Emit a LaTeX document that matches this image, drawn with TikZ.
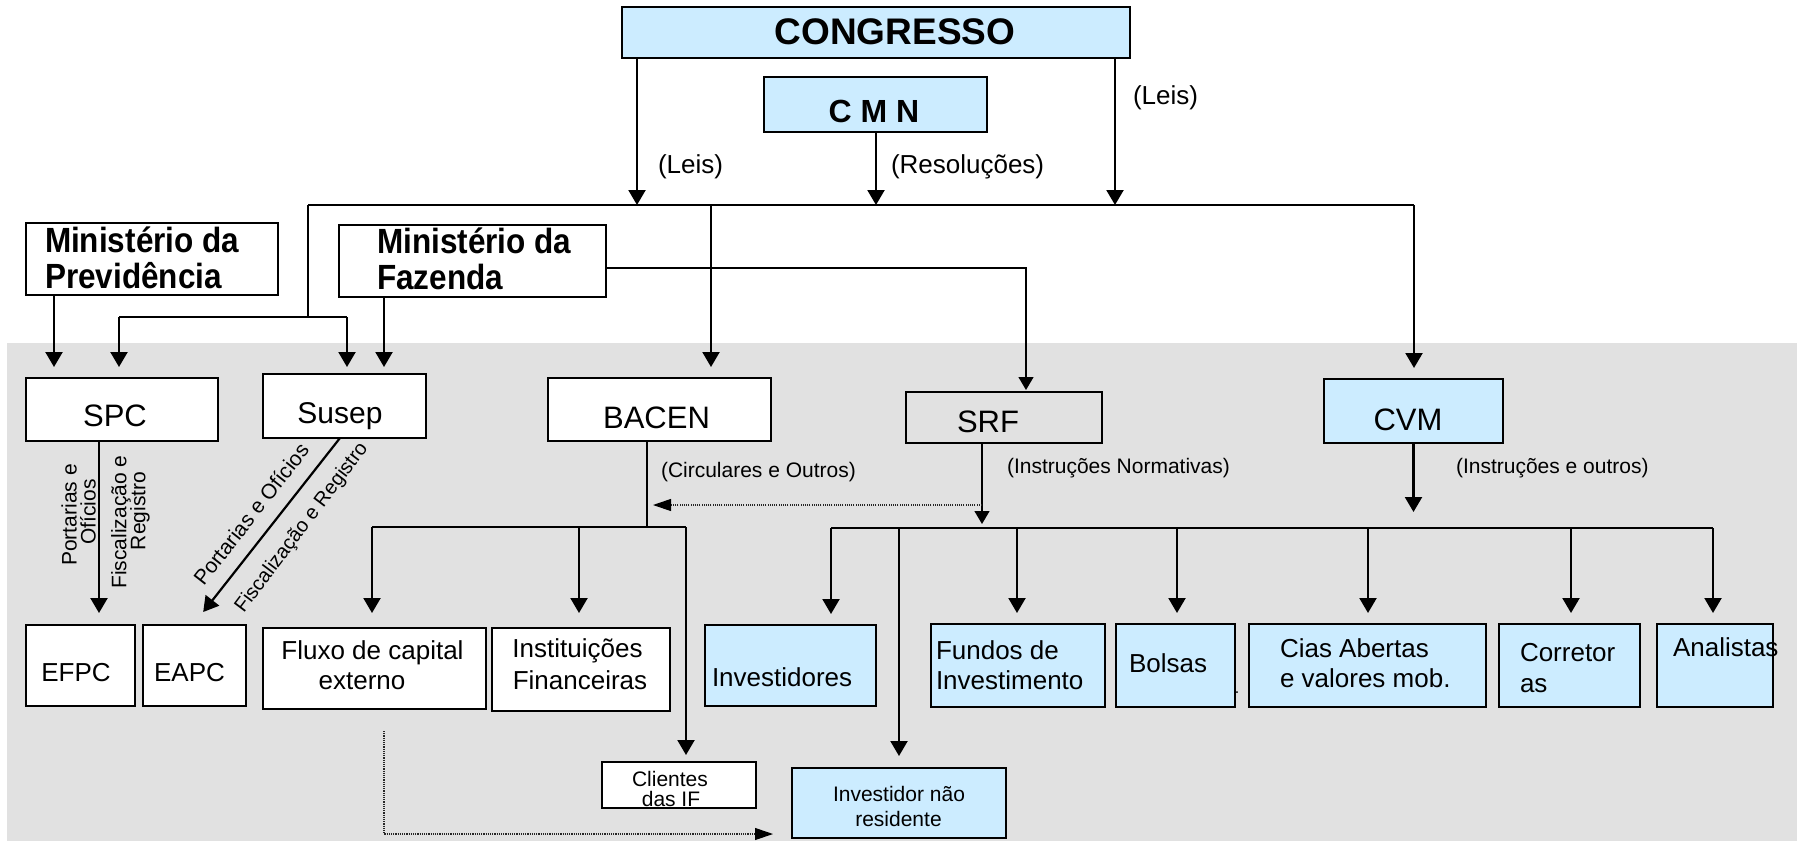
\documentclass[tikz,border=0pt]{standalone}
\usepackage{fontspec}
\setmainfont{Liberation Sans}
\usepackage{graphicx}
\usetikzlibrary{arrows.meta}
\definecolor{lblue}{RGB}{204,236,255}
\definecolor{bggray}{RGB}{225,225,225}
\newcommand\fsz[1]{\fontsize{#1}{#1}\selectfont}
\begin{document}
\begin{tikzpicture}[x=1pt,y=-1pt,
  box/.style={draw=black, line width=2.2pt, fill=white, inner sep=0pt, outer sep=0pt},
  bluebox/.style={box, fill=lblue},
  lbl/.style={inner sep=0pt, outer sep=0pt, text=black},
  ln/.style={line width=2.2pt, draw=black},
  arr/.style={line width=2.2pt, draw=black, -{Triangle[length=15pt,width=17pt]}},
  thinarr/.style={line width=1.3pt, draw=black, -{Triangle[length=13pt,width=15pt]}},
  dotarr/.style={line width=1.1pt, draw=black!85, dash pattern=on 1.1pt off 1.1pt, -{Triangle[length=18pt,width=12pt,color=black]}}
]
\useasboundingbox (0,0) rectangle (1797,841);
\fill[bggray] (7,343) rectangle (1797,841);

% ---------- boxes ----------
\node[bluebox, minimum width=508pt, minimum height=51pt] (congresso) at (876,32.5) {};
\node[bluebox, minimum width=223pt, minimum height=55pt] (cmn) at (875.5,104.5) {};
\node[box, minimum width=252pt, minimum height=72pt] (mprev) at (152,259) {};
\node[box, minimum width=267pt, minimum height=72pt] (mfaz) at (472.5,261) {};
\node[box, minimum width=192pt, minimum height=63pt] (spc) at (122,409.5) {};
\node[box, minimum width=163pt, minimum height=64pt] (susep) at (344.5,406) {};
\node[box, minimum width=223pt, minimum height=63pt] (bacen) at (659.5,409.5) {};
\node[box, fill=bggray, line width=1.4pt, minimum width=196pt, minimum height=51pt] (srf) at (1004,417.5) {};
\node[bluebox, minimum width=179pt, minimum height=64pt] (cvm) at (1413.5,411) {};
\node[box, minimum width=109pt, minimum height=81pt] (efpc) at (80.5,665.5) {};
\node[box, minimum width=103pt, minimum height=81pt] (eapc) at (194.5,665.5) {};
\node[box, minimum width=223pt, minimum height=81pt] (fluxo) at (374.5,668.5) {};
\node[box, minimum width=178pt, minimum height=83pt] (inst) at (581,669.5) {};
\node[box, minimum width=154pt, minimum height=46pt] (clientes) at (679,785) {};
\node[bluebox, minimum width=171pt, minimum height=81pt] (invest) at (790.5,665.5) {};
\node[bluebox, minimum width=214pt, minimum height=70pt] (naores) at (899,803) {};
\node[bluebox, minimum width=174pt, minimum height=83pt] (fundos) at (1018,665.5) {};
\node[bluebox, minimum width=119pt, minimum height=83pt] (bolsas) at (1175.5,665.5) {};
\node[bluebox, minimum width=237pt, minimum height=83pt] (cias) at (1367.5,665.5) {};
\node[bluebox, minimum width=141pt, minimum height=83pt] (corr) at (1569.5,665.5) {};
\node[bluebox, minimum width=116pt, minimum height=83pt] (anal) at (1715,665.5) {};

% ---------- texts ----------
\node[lbl, font=\bfseries\fsz{37}, anchor=base] (congresso-t) at (895,44) {CONGRESSO};
\node[lbl, font=\bfseries\fsz{32}, anchor=base] (cmn-t) at (874,122) {C M N};
\node[lbl, font=\bfseries\fsz{35}, anchor=base west] (mprev-t1) at (45,252) {\scalebox{0.9}[1]{Ministério da}};
\node[lbl, font=\bfseries\fsz{35}, anchor=base west] (mprev-t2) at (45,288) {\scalebox{0.9}[1]{Previdência}};
\node[lbl, font=\bfseries\fsz{35}, anchor=base west] (mfaz-t1) at (377,253) {\scalebox{0.9}[1]{Ministério da}};
\node[lbl, font=\bfseries\fsz{35}, anchor=base west] (mfaz-t2) at (377,289) {\scalebox{0.9}[1]{Fazenda}};

\node[lbl, font=\fsz{26}, anchor=base west] (leis1) at (658,173) {(Leis)};
\node[lbl, font=\fsz{26}, anchor=base west] (resol) at (891,173) {(Resoluções)};
\node[lbl, font=\fsz{26}, anchor=base west] (leis2) at (1133,104) {(Leis)};

\node[lbl, font=\fsz{31}, anchor=base] (spc-t) at (115,426) {SPC};
\node[lbl, font=\fsz{30}, anchor=base] (susep-t) at (340,423) {Susep};
\node[lbl, font=\fsz{31}, anchor=base] (bacen-t) at (656.5,428) {BACEN};
\node[lbl, font=\fsz{31}, anchor=base] (srf-t) at (988,432) {SRF};
\node[lbl, font=\fsz{31}, anchor=base] (cvm-t) at (1408,430) {CVM};
\node[lbl, font=\fsz{26}, anchor=base] (efpc-t) at (76,681) {EFPC};
\node[lbl, font=\fsz{26}, anchor=base] (eapc-t) at (189.5,681) {EAPC};

\node[lbl, font=\fsz{21}, anchor=base west] (circ) at (661,477) {(Circulares e Outros)};
\node[lbl, font=\fsz{21}, anchor=base west] (instnorm) at (1007,473) {(Instruções Normativas)};
\node[lbl, font=\fsz{21}, anchor=base west] (instout) at (1456,473) {(Instruções e outros)};

\node[lbl, font=\fsz{21}, rotate=90] (port1) at (69,515) {Portarias e};
\node[lbl, font=\fsz{21}, rotate=90] (port2) at (88,512) {Ofícios};
\node[lbl, font=\fsz{21}, rotate=90] (fisc1) at (121,522) {Fiscalização e};
\node[lbl, font=\fsz{21}, rotate=90] (fisc2) at (140,511) {Registro};
\node[lbl, font=\fsz{21}, rotate=52] (port3) at (251,514) {Portarias e Ofícios};
\node[lbl, font=\fsz{20}, rotate=53] (fisc3) at (302,528) {Fiscalização e Registro};

\node[lbl, font=\fsz{26}, anchor=base] (fluxo-t1) at (372.5,659) {Fluxo de capital};
\node[lbl, font=\fsz{26}, anchor=base] (fluxo-t2) at (362,689) {externo};
\node[lbl, font=\fsz{26}, anchor=base] (inst-t1) at (577.5,657) {Instituições};
\node[lbl, font=\fsz{26}, anchor=base] (inst-t2) at (580,689) {Financeiras};
\node[lbl, font=\fsz{21}, anchor=base] (cli-t1) at (670,786) {Clientes};
\node[lbl, font=\fsz{21}, anchor=base] (cli-t2) at (671,806) {das IF};
\node[lbl, font=\fsz{26}, anchor=base west] (invest-t) at (712,686) {Investidores};
\node[lbl, font=\fsz{21}, anchor=base] (nr-t1) at (899,801) {Investidor não};
\node[lbl, font=\fsz{21}, anchor=base] (nr-t2) at (898.5,826) {residente};
\node[lbl, font=\fsz{26}, anchor=base west] (fundos-t1) at (936,659) {Fundos de};
\node[lbl, font=\fsz{26}, anchor=base west] (fundos-t2) at (936,689) {Investimento};
\node[lbl, font=\fsz{26}, anchor=base west] (bolsas-t) at (1129,672) {Bolsas};
\node[lbl, font=\fsz{16}, anchor=base] (dot-t) at (1237,693) {.};
\node[lbl, font=\fsz{26}, anchor=base west] (cias-t1) at (1280,657) {Cias Abertas};
\node[lbl, font=\fsz{26}, anchor=base west] (cias-t2) at (1280,687) {e valores mob.};
\node[lbl, font=\fsz{26}, anchor=base west] (corr-t1) at (1520,661) {Corretor};
\node[lbl, font=\fsz{26}, anchor=base west] (corr-t2) at (1520,692) {as};
\node[lbl, font=\fsz{26}, anchor=base west] (anal-t) at (1673,656) {Analistas};

% ---------- coordinates ----------
\coordinate (busL) at (308,205);
\coordinate (busR) at (1414,205);
\coordinate (b1) at (637,205);
\coordinate (b2) at (876,205);
\coordinate (b3) at (1115,205);
\coordinate (b4) at (711,205);
\coordinate (j1) at (308,317);
\coordinate (j2) at (119,317);
\coordinate (j3) at (347,317);
\coordinate (x54) at (54,0);
\coordinate (x384) at (384,0);
\coordinate (x99) at (99,0);
\coordinate (x340) at (340,0);
\coordinate (x193) at (193,0);
\coordinate (x1026) at (1026,0);
\coordinate (y268) at (0,268);
\coordinate (y834) at (0,834);
\coordinate (xfl) at (384,0);
\coordinate (bb0) at (647,527);
\coordinate (bbL) at (372,527);
\coordinate (bbM) at (579,527);
\coordinate (bbR) at (686,527);
\coordinate (cbS) at (982,528);
\coordinate (cb0) at (1413.5,528);
\coordinate (cbL) at (831,528);
\coordinate (cbF) at (1017,528);
\coordinate (cbB) at (1177,528);
\coordinate (cbC) at (1368,528);
\coordinate (cbK) at (1571,528);
\coordinate (cbR) at (1713,528);
\coordinate (cbN) at (899,528);
\coordinate (dotS) at (982,505);
\coordinate (dotE) at (653,505);

% ---------- connectors ----------
\draw[ln] (busL) -- (busR);
\draw[arr] (congresso.south -| b1) -- (b1);
\draw[arr] (congresso.south -| b3) -- (b3);
\draw[arr] (cmn.south -| b2) -- (b2);
\draw[ln] (busL) -- (j1);
\draw[ln] (j2) -- (j3);
\draw[arr, shorten >=11pt] (j2) -- (j2 |- spc.north);
\draw[arr, shorten >=7pt] (j3) -- (j3 |- susep.north);
\draw[arr, shorten >=11pt] (mprev.south -| x54) -- (spc.north -| x54);
\draw[arr, shorten >=7pt] (mfaz.south -| x384) -- (susep.north -| x384);
\draw[arr, shorten >=11pt] (b4) -- (b4 |- bacen.north);
\draw[arr, shorten >=11pt] (busR) -- (busR |- cvm.north);
\draw[thinarr, shorten >=2pt] (mfaz.east |- y268) -| (srf.north -| x1026);

\draw[arr, shorten >=12pt] (spc.south -| x99) -- (efpc.north -| x99);
\draw[arr, shorten >=16.5pt] (susep.south -| x340) -- (eapc.north -| x193);

\draw[ln] (bacen.south -| bb0) -- (bb0);
\draw[ln] (bbL) -- (bbR);
\draw[arr, shorten >=15pt] (bbL) -- (bbL |- fluxo.north);
\draw[arr, shorten >=15pt] (bbM) -- (bbM |- inst.north);
\draw[arr, shorten >=7pt] (bbR) -- (bbR |- clientes.north);

\draw[thinarr, shorten >=4pt] (srf.south -| cbS) -- (cbS);
\draw[dotarr] (dotS) -- (dotE);
\draw[arr, shorten >=16pt] (cvm.south) -- (cb0);
\draw[ln] (cbL) -- (cbR);
\draw[arr, shorten >=11pt] (cbL) -- (cbL |- invest.north);
\draw[arr, shorten >=11pt] (cbF) -- (cbF |- fundos.north);
\draw[arr, shorten >=11pt] (cbB) -- (cbB |- bolsas.north);
\draw[arr, shorten >=11pt] (cbC) -- (cbC |- cias.north);
\draw[arr, shorten >=11pt] (cbK) -- (cbK |- corr.north);
\draw[arr, shorten >=11pt] (cbR) -- (cbR |- anal.north);
\draw[arr, shorten >=12pt] (cbN) -- (cbN |- naores.north);
\draw[dotarr, shorten <=22pt, shorten >=19pt] (fluxo.south -| xfl) |- (naores.west |- y834);
\end{tikzpicture}
\end{document}
